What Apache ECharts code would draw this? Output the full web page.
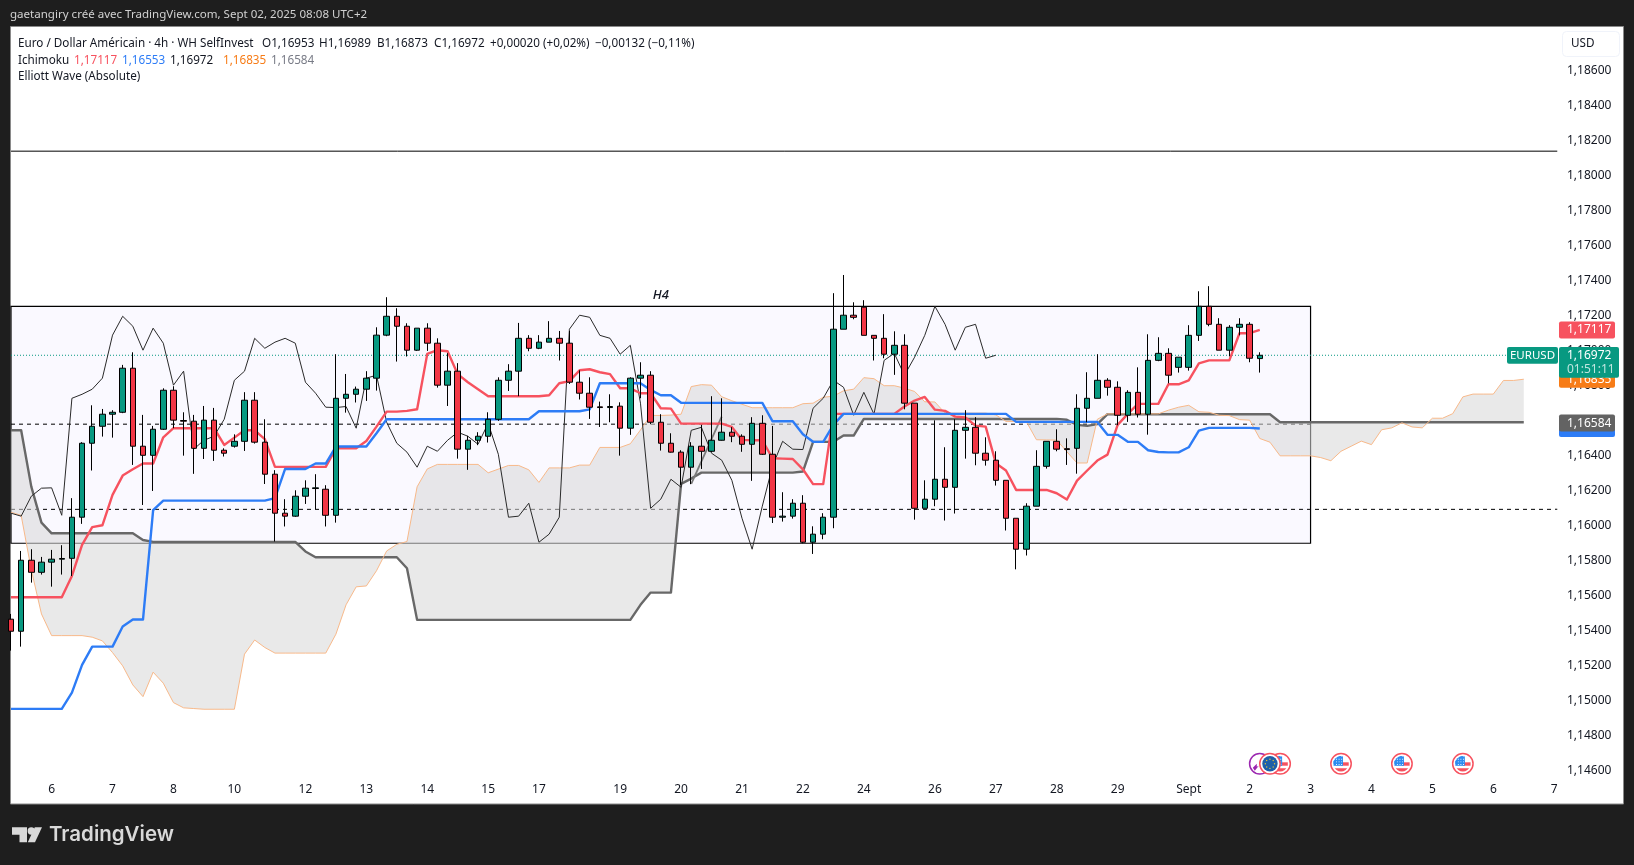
<!DOCTYPE html>
<html>
<head>
<meta charset="utf-8">
<style>html,body{margin:0;padding:0;background:#1e1e1e}#c{width:1634px;height:865px}</style>
<script src="https://cdn.jsdelivr.net/npm/echarts@6/dist/echarts.min.js"></script>
</head>
<body>
<div id="c"></div>
<script>
const opens = [
1.15463,1.15394,1.15800,1.15731,1.15789,1.15806,1.15811,1.16046,1.16469,1.16566,
1.16635,1.16646,1.16898,1.16452,1.16400,1.16549,1.16772,1.16599,1.16595,1.16440,
1.16601,1.16429,1.16452,1.16480,1.16715,1.16475,1.16292,1.16069,1.16052,1.16166,
1.16210,1.16206,1.16057,1.16726,1.16749,1.16778,1.16841,1.17087,1.17195,1.17138,
1.17001,1.17127,1.17041,1.16801,1.16881,1.16435,1.16486,1.16509,1.16606,1.16829,
1.16881,1.17069,1.17012,1.17047,1.17069,1.17041,1.16818,1.16755,1.16677,1.16673,
1.16681,1.16555,1.16841,1.16858,1.16589,1.16469,1.16418,1.16332,1.16452,1.16423,
1.16486,1.16532,1.16509,1.16463,1.16583,1.16406,1.16046,1.16052,1.16126,1.15903,
1.15949,1.16046,1.17121,1.17201,1.17247,1.17086,1.17069,1.16978,1.17029,1.16698,
1.16097,1.16149,1.16263,1.16217,1.16543,1.16560,1.16412,1.16372,1.16257,1.16040,
1.15863,1.16109,1.16337,1.16480,1.16438,1.16440,1.16669,1.16726,1.16829,1.16789,
1.16629,1.16760,1.16635,1.16943,1.16983,1.16903,1.16903,1.17086,1.17252,1.17149,
1.17001,1.17132,1.17149,1.16953];
const closes = [
1.15394,1.15800,1.15731,1.15789,1.15806,1.15810,1.16046,1.16469,1.16566,1.16635,
1.16646,1.16898,1.16452,1.16400,1.16549,1.16772,1.16601,1.16595,1.16440,1.16601,
1.16429,1.16412,1.16480,1.16715,1.16475,1.16292,1.16069,1.16052,1.16166,1.16212,
1.16214,1.16057,1.16726,1.16749,1.16778,1.16841,1.17087,1.17195,1.17138,1.17001,
1.17127,1.17041,1.16801,1.16881,1.16435,1.16486,1.16509,1.16606,1.16829,1.16881,
1.17069,1.17012,1.17047,1.17069,1.17041,1.16818,1.16755,1.16675,1.16673,1.16679,
1.16555,1.16841,1.16858,1.16589,1.16469,1.16418,1.16332,1.16452,1.16423,1.16486,
1.16532,1.16509,1.16463,1.16583,1.16406,1.16046,1.16052,1.16126,1.15903,1.15949,
1.16046,1.17121,1.17201,1.17189,1.17086,1.17069,1.16978,1.17029,1.16698,1.16097,
1.16149,1.16263,1.16217,1.16543,1.16560,1.16412,1.16372,1.16257,1.16040,1.15863,
1.16109,1.16337,1.16480,1.16435,1.16433,1.16669,1.16726,1.16829,1.16789,1.16629,
1.16760,1.16635,1.16943,1.16983,1.16858,1.16961,1.17086,1.17252,1.17149,1.17001,
1.17132,1.17149,1.16955,1.16972];
const lows = [
1.15283,1.15306,1.15672,1.15718,1.15649,1.15718,1.15710,1.16008,1.16313,1.16507,
1.16501,1.16641,1.16345,1.16116,1.16196,1.16545,1.16555,1.16398,1.16294,1.16379,
1.16368,1.16393,1.16444,1.16425,1.16467,1.16236,1.15907,1.15993,1.16048,1.16122,
1.16092,1.15993,1.16015,1.16644,1.16702,1.16711,1.16770,1.17081,1.16936,1.16965,
1.16997,1.16997,1.16787,1.16682,1.16381,1.16317,1.16458,1.16473,1.16597,1.16768,
1.16738,1.16995,1.17007,1.17047,1.16942,1.16808,1.16719,1.16608,1.16562,1.16589,
1.16398,1.16517,1.16726,1.16578,1.16427,1.16416,1.16231,1.16235,1.16322,1.16418,
1.16484,1.16475,1.16420,1.16254,1.16402,1.16013,1.16021,1.16038,1.15897,1.15836,
1.15920,1.15983,1.17121,1.17178,1.17086,1.16942,1.16955,1.16860,1.16663,1.16032,
1.16097,1.16109,1.16027,1.16067,1.16381,1.16343,1.16341,1.16227,1.15970,1.15748,
1.15827,1.16109,1.16324,1.16423,1.16345,1.16295,1.16589,1.16726,1.16741,1.16572,
1.16591,1.16616,1.16518,1.16938,1.16812,1.16873,1.16884,1.17054,1.17138,1.17001,
1.16966,1.17086,1.16932,1.16873];
const highs = [
1.15493,1.15853,1.15863,1.15819,1.15859,1.15886,1.16155,1.16475,1.16686,1.16665,
1.16658,1.16917,1.16989,1.16631,1.16568,1.16783,1.16795,1.16646,1.16631,1.16682,
1.16671,1.16440,1.16520,1.16761,1.16761,1.16606,1.16315,1.16149,1.16200,1.16257,
1.16292,1.16229,1.16978,1.16865,1.16793,1.16881,1.17132,1.17304,1.17241,1.17155,
1.17127,1.17155,1.17069,1.16984,1.16927,1.16511,1.16532,1.16646,1.16846,1.16921,
1.17157,1.17087,1.17087,1.17167,1.17111,1.17111,1.16886,1.16846,1.16707,1.16749,
1.16703,1.16846,1.16932,1.16881,1.16635,1.16526,1.16429,1.16475,1.16574,1.16738,
1.16726,1.16561,1.16520,1.16618,1.16629,1.16568,1.16189,1.16149,1.16172,1.15994,
1.16069,1.17327,1.17431,1.17275,1.17287,1.17086,1.17207,1.17109,1.17092,1.16698,
1.16257,1.16600,1.16446,1.16606,1.16658,1.16618,1.16503,1.16423,1.16257,1.16040,
1.16126,1.16429,1.16480,1.16549,1.16497,1.16749,1.16875,1.16978,1.16841,1.16823,
1.16772,1.16903,1.17092,1.17075,1.17012,1.16961,1.17144,1.17338,1.17367,1.17184,
1.17144,1.17184,1.17161,1.16989];
const tenkan = [
1.15588,1.15588,1.15588,1.15588,1.15588,1.15588,1.15710,1.15888,1.15989,1.16000,
1.16174,1.16284,1.16320,1.16353,1.16353,1.16503,1.16555,1.16555,1.16555,1.16555,
1.16555,1.16459,1.16501,1.16543,1.16543,1.16492,1.16334,1.16334,1.16334,1.16334,
1.16334,1.16334,1.16440,1.16440,1.16440,1.16482,1.16564,1.16650,1.16650,1.16654,
1.16663,1.16980,1.17001,1.16995,1.16864,1.16818,1.16778,1.16738,1.16738,1.16738,
1.16738,1.16738,1.16738,1.16743,1.16812,1.16824,1.16886,1.16892,1.16875,1.16864,
1.16783,1.16783,1.16755,1.16755,1.16669,1.16667,1.16581,1.16581,1.16581,1.16581,
1.16581,1.16562,1.16488,1.16486,1.16486,1.16383,1.16381,1.16379,1.16320,1.16235,
1.16235,1.16637,1.16637,1.16637,1.16637,1.16637,1.16637,1.16637,1.16679,1.16713,
1.16734,1.16661,1.16654,1.16621,1.16616,1.16570,1.16564,1.16355,1.16313,1.16202,
1.16202,1.16202,1.16202,1.16183,1.16147,1.16255,1.16313,1.16370,1.16404,1.16574,
1.16637,1.16694,1.16694,1.16694,1.16806,1.16806,1.16829,1.16926,1.16943,1.16943,
1.16943,1.17098,1.17098,1.17117];
const kijun = [
1.14950,1.14950,1.14950,1.14950,1.14950,1.14950,1.15043,1.15202,1.15306,1.15306,
1.15306,1.15421,1.15461,1.15461,1.16086,1.16141,1.16141,1.16141,1.16141,1.16141,
1.16141,1.16141,1.16141,1.16141,1.16141,1.16141,1.16155,1.16322,1.16322,1.16322,
1.16353,1.16353,1.16450,1.16450,1.16450,1.16450,1.16526,1.16606,1.16606,1.16606,
1.16606,1.16606,1.16606,1.16606,1.16606,1.16606,1.16606,1.16606,1.16606,1.16606,
1.16606,1.16606,1.16652,1.16652,1.16652,1.16652,1.16652,1.16663,1.16812,1.16812,
1.16812,1.16812,1.16812,1.16774,1.16743,1.16743,1.16700,1.16700,1.16700,1.16700,
1.16700,1.16700,1.16700,1.16700,1.16700,1.16595,1.16595,1.16595,1.16520,1.16477,
1.16477,1.16574,1.16637,1.16637,1.16637,1.16637,1.16637,1.16637,1.16637,1.16637,
1.16637,1.16637,1.16637,1.16637,1.16637,1.16637,1.16637,1.16637,1.16637,1.16591,
1.16591,1.16591,1.16591,1.16591,1.16591,1.16591,1.16591,1.16591,1.16517,1.16517,
1.16477,1.16477,1.16429,1.16419,1.16417,1.16417,1.16446,1.16541,1.16557,1.16557,
1.16557,1.16557,1.16557,1.16553];
const lagging = [
1.16069,1.16052,1.16166,1.16212,1.16214,1.16057,1.16726,1.16749,1.16778,1.16841,
1.17087,1.17195,1.17138,1.17001,1.17127,1.17041,1.16801,1.16881,1.16435,1.16486,
1.16509,1.16606,1.16829,1.16881,1.17069,1.17012,1.17047,1.17069,1.17041,1.16818,
1.16755,1.16675,1.16673,1.16679,1.16555,1.16841,1.16858,1.16589,1.16469,1.16418,
1.16332,1.16452,1.16423,1.16486,1.16532,1.16509,1.16463,1.16583,1.16406,1.16046,
1.16052,1.16126,1.15903,1.15949,1.16046,1.17121,1.17201,1.17189,1.17086,1.17069,
1.16978,1.17029,1.16698,1.16097,1.16149,1.16263,1.16217,1.16543,1.16560,1.16412,
1.16372,1.16257,1.16040,1.15863,1.16109,1.16337,1.16480,1.16435,1.16433,1.16669,
1.16726,1.16829,1.16789,1.16629,1.16760,1.16635,1.16943,1.16983,1.16858,1.16961,
1.17086,1.17252,1.17149,1.17001,1.17132,1.17149,1.16955,1.16972];
const spanA = [
1.16074,1.16057,1.15745,1.15493,1.15369,1.15369,1.15369,1.15369,1.15360,1.15339,
1.15272,1.15196,1.15087,1.15020,1.15160,1.15097,1.14986,1.14956,1.14952,1.14948,
1.14948,1.14948,1.14948,1.15263,1.15344,1.15301,1.15269,1.15269,1.15269,1.15269,
1.15269,1.15269,1.15377,1.15545,1.15648,1.15653,1.15740,1.15853,1.15891,1.15907,
1.16220,1.16322,1.16348,1.16348,1.16348,1.16348,1.16348,1.16300,1.16321,1.16342,
1.16342,1.16317,1.16245,1.16328,1.16328,1.16328,1.16344,1.16344,1.16445,1.16445,
1.16445,1.16466,1.16545,1.16628,1.16628,1.16630,1.16635,1.16793,1.16804,1.16801,
1.16735,1.16712,1.16692,1.16672,1.16672,1.16672,1.16672,1.16672,1.16695,1.16698,
1.16732,1.16738,1.16769,1.16778,1.16844,1.16838,1.16798,1.16798,1.16784,1.16765,
1.16706,1.16705,1.16641,1.16641,1.16641,1.16641,1.16641,1.16631,1.16594,1.16593,
1.16593,1.16489,1.16488,1.16487,1.16420,1.16356,1.16356,1.16606,1.16637,1.16637,
1.16637,1.16637,1.16637,1.16637,1.16658,1.16675,1.16686,1.16649,1.16646,1.16629,
1.16627,1.16604,1.16601,1.16496,1.16475,1.16397,1.16397,1.16397,1.16397,1.16387,
1.16369,1.16423,1.16452,1.16481,1.16461,1.16546,1.16557,1.16586,1.16562,1.16557,
1.16612,1.16612,1.16638,1.16734,1.16750,1.16750,1.16750,1.16828,1.16828,1.16835];
const spanB = [
1.16543,1.16543,1.16221,1.16015,1.15954,1.15954,1.15954,1.15954,1.15954,1.15954,
1.15954,1.15954,1.15954,1.15916,1.15905,1.15905,1.15905,1.15905,1.15905,1.15905,
1.15905,1.15905,1.15905,1.15905,1.15905,1.15905,1.15905,1.15905,1.15905,1.15850,
1.15817,1.15817,1.15817,1.15817,1.15817,1.15817,1.15817,1.15817,1.15817,1.15754,
1.15459,1.15459,1.15459,1.15459,1.15459,1.15459,1.15459,1.15459,1.15459,1.15459,
1.15459,1.15459,1.15459,1.15459,1.15459,1.15459,1.15459,1.15459,1.15459,1.15459,
1.15459,1.15459,1.15545,1.15615,1.15615,1.15615,1.16237,1.16267,1.16301,1.16301,
1.16301,1.16301,1.16301,1.16301,1.16301,1.16301,1.16301,1.16301,1.16307,1.16477,
1.16477,1.16477,1.16513,1.16513,1.16608,1.16608,1.16608,1.16608,1.16608,1.16608,
1.16608,1.16608,1.16608,1.16608,1.16608,1.16608,1.16608,1.16608,1.16608,1.16608,
1.16608,1.16608,1.16608,1.16608,1.16603,1.16574,1.16568,1.16578,1.16635,1.16635,
1.16635,1.16635,1.16635,1.16635,1.16635,1.16635,1.16635,1.16635,1.16635,1.16635,
1.16635,1.16635,1.16635,1.16635,1.16635,1.16589,1.16589,1.16589,1.16589,1.16589,
1.16589,1.16589,1.16589,1.16589,1.16589,1.16589,1.16589,1.16589,1.16589,1.16589,
1.16589,1.16589,1.16589,1.16589,1.16589,1.16589,1.16589,1.16589,1.16589,1.16589];
const waveSegment = [[67,1.16236],[70,1.16621]];
const priceTicks = [1.146,1.148,1.150,1.152,1.154,1.156,1.158,1.160,1.162,1.164,1.166,1.168,1.170,1.172,1.174,1.176,1.178,1.180,1.182,1.184,1.186];
const timeTickBars = [4,10,16,22,29,35,41,47,52,60,66,72,78,84,91,97,103,109,116,122,128,134,140,146,152];
const timeTickLabels = ['6','7','8','10','12','13','14','15','17','19','20','21','22','24','26','27','28','29','Sept','2','3','4','5','6','7'];
const eventBars = [123,125,124,131,137,143];
const eventKinds = ['speech','us','eu','us','us','us'];
const eventLevel = 1.14636;
const resistanceLevel = 1.18139, upperDash = 1.16578, lowerDash = 1.16091, lastPrice = 1.16972;
const rangeBox = {from:0, to:128, top:1.17252, bottom:1.15897, label:'H4'};
const tags = [
 {price:1.16553, text:'', color:'#2D7CF6'},
 {price:1.16835, text:'1,16835', color:'#F77C17'},
 {price:1.17117, text:'1,17117', color:'#F7525F'},
 {price:1.16584, text:'1,16584', color:'#636363'}
];

const FONT = '"Noto Sans", sans-serif';
const X_MAX = 152.47, DRAW_END = 152.3;
const pts = a => a.map((v,i)=>[i,v]);
const chart = echarts.init(document.getElementById('c'), null, {renderer:'canvas', width:1634, height:865});

const line = (name,data,color,width,z,extra) => Object.assign({
  type:'line', name, data, showSymbol:false, symbol:'none', z, silent:true,
  lineStyle:{color,width,join:'round'}, animation:false
}, extra||{});

function renderCloud(params, api){
  if(params.dataIndex !== 0) return null;
  const fwd = spanA.map((v,i)=>api.coord([i,v]));
  const back = spanB.map((v,i)=>api.coord([i,v])).reverse();
  return {type:'polygon', shape:{points:fwd.concat(back)}, style:{fill:'rgba(215,215,215,0.56)'}, silent:true};
}
function renderTag(params, api){
  const t = tags[params.dataIndex];
  const p = api.coord([X_MAX, t.price]);
  return {type:'group', children:[
    {type:'rect', shape:{x:p[0],y:p[1]-8.5,width:56,height:17,r:2}, style:{fill:t.color}},
    {type:'text', style:{x:p[0]+8,y:p[1],text:t.text,fill:'#fff',font:'12px '+FONT,verticalAlign:'middle',textAlign:'left'}}
  ]};
}
function renderLast(params, api){
  const p = api.coord([X_MAX, lastPrice]);
  const y = p[1], x = p[0];
  return {type:'group', children:[
    {type:'rect', shape:{x:x,y:y-8.3,width:60,height:30.7,r:2}, style:{fill:'#089981'}},
    {type:'text', style:{x:x+8,y:y,text:'1,16972',fill:'#fff',font:'12px '+FONT,verticalAlign:'middle'}},
    {type:'text', style:{x:x+8,y:y+14,text:'01:51:11',fill:'#bfe6df',font:'12px '+FONT,verticalAlign:'middle'}},
    {type:'rect', shape:{x:x-52,y:y-8.3,width:51,height:16.7,r:2}, style:{fill:'#089981'}},
    {type:'text', style:{x:x-26.5,y:y,text:'EURUSD',fill:'#fff',font:'11.5px '+FONT,verticalAlign:'middle',textAlign:'center'}}
  ]};
}
function renderEvent(params, api){
  const i = params.dataIndex, c = api.coord([eventBars[i], eventLevel]), x=c[0], y=c[1], kind=eventKinds[i];
  const kids = [];
  const ring = kind==='speech' ? '#9C27B0' : '#F7525F';
  kids.push({type:'circle', shape:{cx:x,cy:y,r:10.2}, style:{fill:'#fff',stroke:ring,lineWidth:1.5}});
  if(kind==='speech'){
    kids.push({type:'polygon', shape:{points:[[x-7,y+4],[x-3,y],[x-3,y+3],[x-1,y+2],[x-5,y+7]]}, style:{fill:ring}});
  } else if(kind==='eu'){
    kids.push({type:'circle', shape:{cx:x,cy:y,r:7.7}, style:{fill:'#1F5FA8'}});
    for(let k=0;k<8;k++){
      const a=k*Math.PI/4;
      kids.push({type:'circle', shape:{cx:x+4.6*Math.cos(a),cy:y+4.6*Math.sin(a),r:0.7}, style:{fill:'#E9C53A'}});
    }
  } else {
    const cap=[];
    for(let a=0.2;a<=0.801;a+=0.1) cap.push([x+7.7*Math.cos(a*Math.PI),y+7.7*Math.sin(a*Math.PI)]);
    kids.push({type:'polygon', shape:{points:cap}, style:{fill:'#F7525F'}});
    kids.push({type:'rect', shape:{x:x,y:y-1.5,width:7.7,height:3.4}, style:{fill:'#F7525F'}});
    kids.push({type:'sector', shape:{cx:x,cy:y,r:7.7,r0:0,startAngle:Math.PI,endAngle:1.5*Math.PI}, style:{fill:'#2D8CF0'}});
    kids.push({type:'rect', shape:{x:x-7.5,y:y-3,width:9.5,height:5}, style:{fill:'#2D8CF0'}});
    kids.push({type:'rect', shape:{x:x-2,y:y-7.4,width:4,height:6}, style:{fill:'#2D8CF0'}});
    for(let a=0;a<3;a++) for(let b=0;b<3;b++)
      kids.push({type:'rect', shape:{x:x-5+a*2.6,y:y-5+b*2.6,width:0.9,height:0.9}, style:{fill:'#fff'}});
  }
  return {type:'group', children:kids};
}

const T = (x,y,text,fill,extra) => Object.assign({type:'text', z:50, silent:true,
  style:Object.assign({x,y,text,fill:fill||'#131722',font:'11.7px '+FONT,verticalAlign:'middle'},extra||{})});
const graphic = [
  {type:'rect', z:-20, silent:true, shape:{x:10.5,y:26.5,width:1613,height:777.5}, style:{fill:'#fff',stroke:'#8a8a8a',lineWidth:1}},
  T(10,15,'gaetangiry créé avec TradingView.com, Sept 02, 2025 08:08 UTC+2','#d1d1d1',{font:'11.55px '+FONT}),
  T(18,43.5,'Euro / Dollar Américain · 4h · WH SelfInvest'),
  T(262,43.5,'O1,16953'),T(319,43.5,'H1,16989'),T(377,43.5,'B1,16873'),T(434,43.5,'C1,16972'),
  T(490,43.5,'+0,00020 (+0,02%)'),T(595,43.5,'−0,00132 (−0,11%)'),
  T(18,60.5,'Ichimoku'),T(74,60.5,'1,17117','#F7525F'),T(122,60.5,'1,16553','#2D7CF6'),
  T(170,60.5,'1,16972','#131722'),T(223,60.5,'1,16835','#F77C17'),T(271,60.5,'1,16584','#787b86'),
  T(18,77,'Elliott Wave (Absolute)'),
  {type:'rect', z:40, silent:true, shape:{x:1562.5,y:31.5,width:57,height:25,r:4}, style:{fill:'#fff',stroke:'#f0f3fa',lineWidth:1}},
  T(1571,44,'USD'),
  {type:'polygon', z:50, silent:true, shape:{points:[[12,827.3],[27,827.3],[27,842.3],[19.5,842.3],[19.5,834.8],[12,834.8]]}, style:{fill:'#d9d9d9'}},
  {type:'circle', z:50, silent:true, shape:{cx:31.3,cy:831,r:3.7}, style:{fill:'#d9d9d9'}},
  {type:'polygon', z:50, silent:true, shape:{points:[[34.8,827.3],[42,827.3],[35,842.3],[27.8,842.3]]}, style:{fill:'#d9d9d9'}},
  {type:'text', z:50, silent:true, style:{x:49,y:835,text:'TradingView',fill:'#d9d9d9',font:'600 20.5px Inter, '+FONT,verticalAlign:'middle'}}
];

const option = {
  animation:false,
  backgroundColor:'#1e1e1e',
  graphic,
  grid:{left:11,width:1548,top:27,height:748,containLabel:false,show:false},
  xAxis:{type:'value',min:0,max:X_MAX,axisLine:{show:false},axisTick:{show:false},splitLine:{show:false},
    axisLabel:{customValues:timeTickBars,margin:9,color:'#131722',fontFamily:FONT,fontSize:12,hideOverlap:false,
      formatter:v=>timeTickLabels[timeTickBars.indexOf(v)]}},
  yAxis:{type:'value',position:'right',min:1.14572,max:1.18849,axisLine:{show:false},axisTick:{show:false},splitLine:{show:false},
    axisLabel:{customValues:priceTicks,margin:8,color:'#131722',fontFamily:FONT,fontSize:12,padding:[0,0,4,0],
      formatter:v=>v.toFixed(5).replace('.',',')}},
  series:[
    {type:'line',name:'box',data:[],z:1,silent:true,markArea:{silent:true,z:1,
      itemStyle:{color:'#FAF9FF',borderColor:'#000',borderWidth:1.2},
      label:{show:true,position:'top',distance:4,formatter:rangeBox.label,fontStyle:'italic',fontWeight:500,fontFamily:FONT,fontSize:13,color:'#131722'},
      data:[[{xAxis:rangeBox.from,yAxis:rangeBox.top},{xAxis:rangeBox.to,yAxis:rangeBox.bottom}]]}},
    line('resistance',[[0,resistanceLevel],[DRAW_END,resistanceLevel]],'#000',1,2),
    line('upper',[[0,upperDash],[128,upperDash]],'#000',1,2,{lineStyle:{color:'#000',width:1,type:[4,4]}}),
    line('lower',[[0,lowerDash],[DRAW_END,lowerDash]],'#000',1,2,{lineStyle:{color:'#000',width:1,type:[4,4]}}),
    line('last',[[0,lastPrice],[147.3,lastPrice]],'#089981',1,2,{lineStyle:{color:'#089981',width:1,type:[1,2]}}),
    {type:'custom',name:'cloud',renderItem:renderCloud,data:spanA.map((v,i)=>[i,v,spanB[i]]),encode:{x:0,y:[1,2]},z:3,silent:true,clip:true},
    line('Span B',pts(spanB),'#686868',2.4,4),
    line('Span A',pts(spanA),'#F8B98A',1,4),
    line('Wave',waveSegment,'#7a7a7a',1.8,4),
    line('Lagging',pts(lagging),'#2a2a2a',1,5),
    line('Tenkan',pts(tenkan),'#F7525F',2.4,6),
    line('Kijun',pts(kijun),'#2D7CF6',2.4,6),
    {type:'candlestick',name:'EURUSD',z:8,silent:true,barWidth:6,clip:true,
      data:opens.map((o,i)=>[i,o,closes[i],lows[i],highs[i]]),
      itemStyle:{color:'#089981',color0:'#F23645',borderColor:'#000',borderColor0:'#000',borderColorDoji:'#000',borderWidth:1}},
    {type:'custom',name:'events',renderItem:renderEvent,data:eventBars.map(b=>[b,eventLevel]),encode:{x:0,y:1},z:7,silent:true,clip:false},
    {type:'custom',name:'tags',renderItem:renderTag,data:tags.map(t=>[X_MAX,t.price]),encode:{x:0,y:1},z:20,silent:true,clip:false},
    {type:'custom',name:'lastTag',renderItem:renderLast,data:[[X_MAX,lastPrice]],encode:{x:0,y:1},z:21,silent:true,clip:false}
  ]
};
chart.setOption(option);
</script>
</body>
</html>
